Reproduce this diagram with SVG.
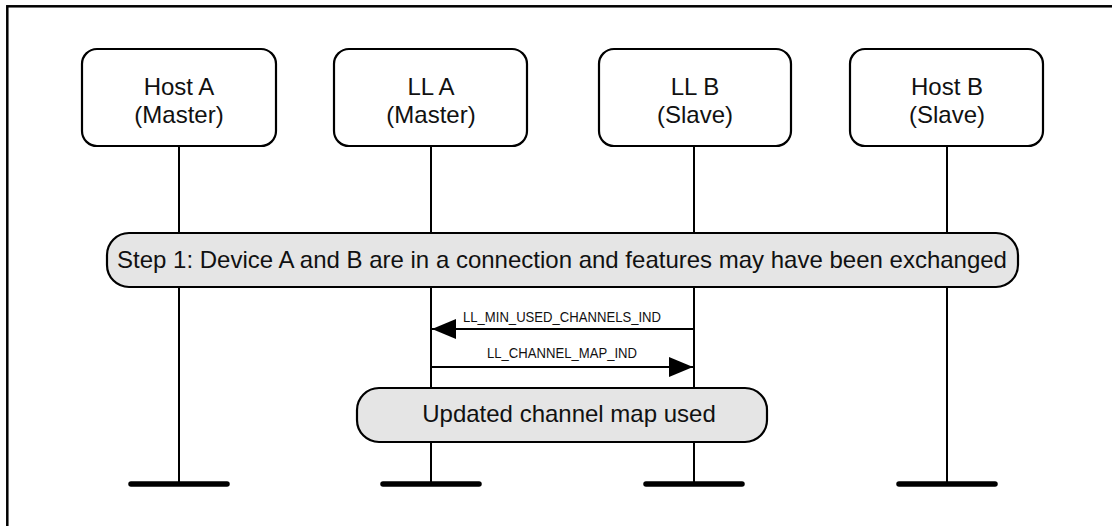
<svg xmlns="http://www.w3.org/2000/svg" width="1112" height="526" viewBox="0 0 1112 526">
<defs>
<style>
.frame{fill:none;stroke:#000;stroke-width:2.5}
.box{fill:#fff;stroke:#000;stroke-width:2.2}
.pill{fill:#e5e5e5;stroke:#000;stroke-width:2.2}
.life{stroke:#000;stroke-width:2;fill:none}
.bar{stroke:#000;stroke-width:5.5;stroke-linecap:round}
.msg{stroke:#000;stroke-width:2.2;fill:none}
.t{font-family:"Liberation Sans",Arial,sans-serif;font-size:24px;fill:#111;text-anchor:middle}
.s{font-family:"Liberation Sans",Arial,sans-serif;font-size:14px;fill:#111;text-anchor:middle}
</style>
<marker id="ah" viewBox="0 0 24 20" refX="24" refY="10" markerWidth="24" markerHeight="20" markerUnits="userSpaceOnUse" orient="auto">
<path d="M0,0 L24,10 L0,20 Z" fill="#000"/>
</marker>
</defs>
<rect width="1112" height="526" fill="#fff"/>
<rect class="frame" x="7.3" y="6.3" width="1130" height="540"/>
<g id="lifelines">
<line class="life" x1="179" y1="146" x2="179" y2="484"/>
<line class="life" x1="431" y1="146" x2="431" y2="484"/>
<line class="life" x1="694" y1="146" x2="694" y2="484"/>
<line class="life" x1="947" y1="146" x2="947" y2="484"/>
<line class="bar" x1="131" y1="484" x2="227" y2="484"/>
<line class="bar" x1="383" y1="484" x2="479" y2="484"/>
<line class="bar" x1="646" y1="484" x2="742" y2="484"/>
<line class="bar" x1="899" y1="484" x2="995" y2="484"/>
</g>
<g id="hostA">
<rect class="box" x="82" y="49" width="194" height="97" rx="15"/>
<text class="t" x="179" y="95">Host A</text>
<text class="t" x="179" y="122.5">(Master)</text>
</g>
<g id="llA">
<rect class="box" x="334" y="49" width="193" height="97" rx="15"/>
<text class="t" x="431" y="95">LL A</text>
<text class="t" x="431" y="122.5">(Master)</text>
</g>
<g id="llB">
<rect class="box" x="599" y="49" width="192" height="97" rx="15"/>
<text class="t" x="695" y="95">LL B</text>
<text class="t" x="695" y="122.5">(Slave)</text>
</g>
<g id="hostB">
<rect class="box" x="850" y="49" width="193" height="97" rx="15"/>
<text class="t" x="947" y="95">Host B</text>
<text class="t" x="947" y="122.5">(Slave)</text>
</g>
<g id="step1">
<rect class="pill" x="107" y="233" width="911" height="54" rx="22"/>
<text class="t" x="562" y="268">Step 1: Device A and B are in a connection and features may have been exchanged</text>
</g>
<g id="connectors">
<line class="msg" x1="694" y1="329" x2="432" y2="329" marker-end="url(#ah)"/>
<text class="s" x="562" y="322" textLength="198" lengthAdjust="spacingAndGlyphs">LL_MIN_USED_CHANNELS_IND</text>
<line class="msg" x1="431" y1="367" x2="693" y2="367" marker-end="url(#ah)"/>
<text class="s" x="562" y="358" textLength="150" lengthAdjust="spacingAndGlyphs">LL_CHANNEL_MAP_IND</text>
</g>
<g id="updated">
<rect class="pill" x="357" y="388" width="410" height="54" rx="22"/>
<text class="t" x="569" y="422">Updated channel map used</text>
</g>
</svg>
